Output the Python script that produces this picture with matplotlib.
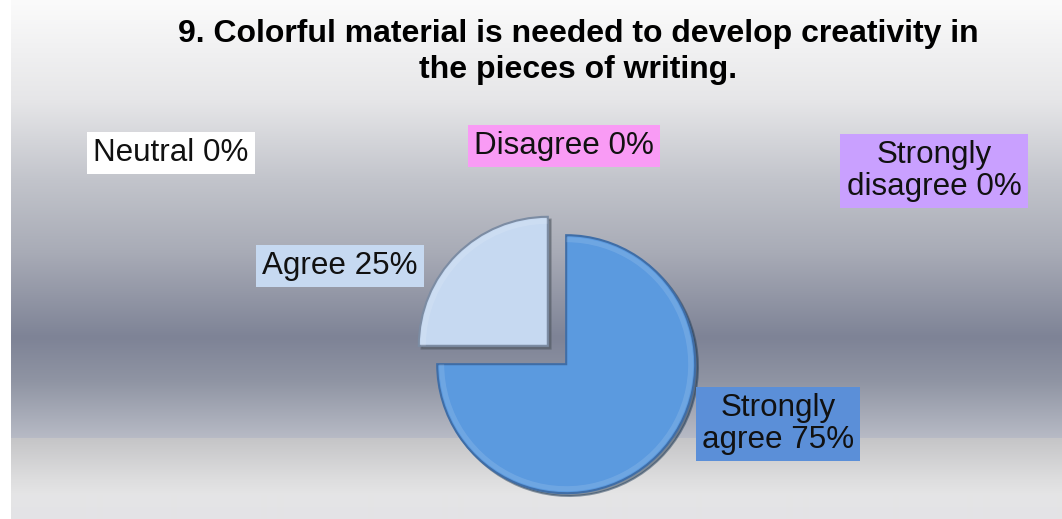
import numpy as np
import matplotlib.pyplot as plt
import matplotlib.colors as mcolors
from matplotlib.patches import Wedge

plt.rcParams['font.family'] = ['Liberation Sans', 'DejaVu Sans']

title = '9. Colorful material is needed to develop creativity in\nthe pieces of writing.'
categories = ['Strongly\nagree', 'Agree', 'Neutral', 'Disagree', 'Strongly\ndisagree']
percents = [75, 25, 0, 0, 0]
slice_colors = ['#5B9ADF', '#C6D9F1', '#FFFFFF', '#F99BF5', '#C9A0FF']
box_colors = ['#5B8FD8', '#C6D9F1', '#FFFFFF', '#F99BF5', '#C9A0FF']

W, H = 1062, 519
fig = plt.figure(figsize=(W / 100, H / 100), dpi=100)
fig.patch.set_facecolor('white')

# metallic vertical gradient behind the chart
stops_y = [0, 100, 180, 250, 337, 380, 437, 438, 480, 495, 519]
stops_c = ['#FBFBFB', '#E6E6E8', '#C2C4CB', '#A9ACB7', '#7E8396', '#8F94A3',
           '#B7BAC5', '#C5C5C7', '#DEDEDF', '#E5E5E6', '#E3E3E6']
rgb = np.array([mcolors.to_rgb(c) for c in stops_c])
rows = np.arange(H)
grad = np.stack([np.interp(rows, stops_y, rgb[:, k]) for k in range(3)], axis=1)
grad = np.repeat(grad[:, None, :], 2, axis=1)
bg = fig.add_axes([11 / W, 0, 1 - 11 / W, 1])
bg.imshow(grad, aspect='auto', interpolation='bilinear')
bg.axis('off')

ax = fig.add_axes([0, 0, 1, 1])
ax.patch.set_alpha(0)

# only non-empty answers get a slice
vals = [v for v in percents if v > 0]
cols = [c for v, c in zip(percents, slice_colors) if v > 0]
edges = ['#3F6DA6', '#7C8CA3']
wedges, _ = ax.pie(vals, colors=cols, startangle=90, counterclock=False,
                   radius=129, center=(557, H - 355), explode=[13] * len(vals),
                   shadow=dict(ox=2, oy=-2, shade=0.6, alpha=0.5),
                   wedgeprops=dict(linewidth=1.5))
for w, ec in zip(wedges, edges):
    w.set_edgecolor(ec)
    # soft bevel highlight just inside the rim
    ax.add_patch(Wedge(w.center, w.r - 2, w.theta1, w.theta2, width=5,
                       facecolor='white', edgecolor='none', alpha=0.12))

ax.set_xlim(0, W)
ax.set_ylim(0, H)
ax.set_aspect('equal')
ax.axis('off')

# label boxes
label_pos = [(778, 424), (340, 266), (171, 153), (564, 146), (934, 171)]
for name, v, bc, (x, y) in zip(categories, percents, box_colors, label_pos):
    ax.text(x, H - y, f'{name} {v}%', ha='center', va='center', fontsize=22.6,
            color='#111111', linespacing=1.1,
            bbox=dict(boxstyle='square,pad=0.2', facecolor=bc, edgecolor='none'))

fig.text(578 / W, 1 - 52 / H, title, ha='center', va='center', fontsize=23,
         fontweight='bold', color='black', linespacing=1.28)

fig.savefig('out.png', dpi=100)
